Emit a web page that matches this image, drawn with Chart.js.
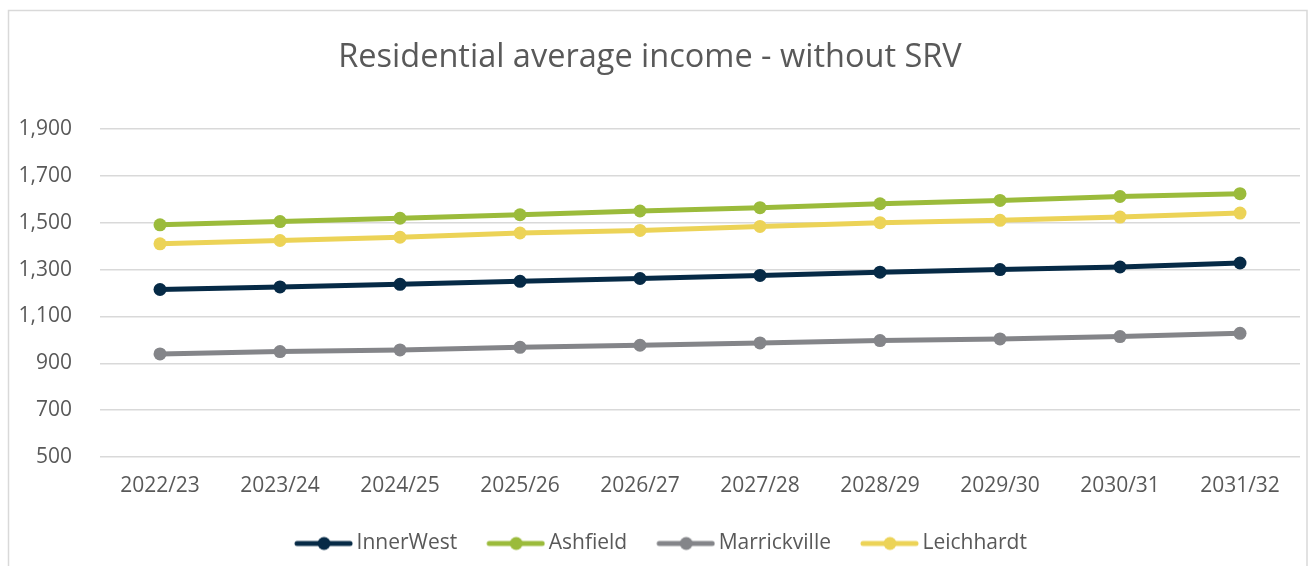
<!DOCTYPE html>
<html>
<head>
<meta charset="utf-8">
<title>Residential average income - without SRV</title>
<script src="https://cdn.jsdelivr.net/npm/chart.js@4.4.1/dist/chart.umd.min.js"></script>
<style>
    html, body { margin: 0; padding: 0; background: #ffffff; }
    #incomeChart { display: block; }
</style>
</head>
<body>
<canvas id="incomeChart" width="1308" height="566"></canvas>
<script>
// Chart data
const years = ['2022/23', '2023/24', '2024/25', '2025/26', '2026/27', '2027/28', '2028/29', '2029/30', '2030/31', '2031/32'];
const innerWest = [1215, 1226, 1237, 1250, 1262, 1275, 1289, 1300, 1311, 1328];
const ashfield = [1491, 1505, 1519, 1534, 1550, 1564, 1581, 1595, 1612, 1624];
const marrickville = [940, 950, 957, 968, 977, 987, 997, 1004, 1014, 1028];
const leichhardt = [1410, 1424, 1438, 1456, 1467, 1484, 1500, 1510, 1524, 1541];

const seriesNames = ['InnerWest', 'Ashfield', 'Marrickville', 'Leichhardt'];
const seriesValues = [innerWest, ashfield, marrickville, leichhardt];
const seriesColors = ['#062a46', '#9bbb3b', '#848589', '#ecd357'];

const textColor = '#595959';
const gridColor = '#d9d9d9';

Chart.defaults.font.family = "'Open Sans', sans-serif";
Chart.defaults.color = textColor;

// Legend marker: short thick line with a dot in the middle (Excel style)
function makeLegendIcon(color) {
    const icon = document.createElement('canvas');
    icon.width = 87;
    icon.height = 16;
    const g = icon.getContext('2d');
    g.strokeStyle = color;
    g.lineWidth = 5;
    g.lineCap = 'round';
    g.beginPath();
    g.moveTo(icon.width - 56, 8);
    g.lineTo(icon.width - 3, 8);
    g.stroke();
    g.fillStyle = color;
    g.beginPath();
    g.arc(icon.width - 29, 8, 6.5, 0, Math.PI * 2);
    g.fill();
    return icon;
}

// White background + thin frame round the chart
const framePlugin = {
    id: 'frame',
    beforeDraw(chart) {
        const c = chart.ctx;
        c.save();
        c.fillStyle = '#ffffff';
        c.fillRect(0, 0, chart.width, chart.height);
        c.strokeStyle = gridColor;
        c.lineWidth = 1.5;
        c.beginPath();
        c.moveTo(8.5, chart.height);
        c.lineTo(8.5, 10.5);
        c.lineTo(1307, 10.5);
        c.lineTo(1307, chart.height);
        c.stroke();
        c.restore();
    }
};

const datasets = seriesNames.map((name, i) => ({
    label: name,
    data: seriesValues[i],
    borderColor: seriesColors[i],
    backgroundColor: seriesColors[i],
    pointBackgroundColor: seriesColors[i],
    pointBorderWidth: 0,
    pointRadius: 6.5,
    pointStyle: 'circle',
    legendIcon: makeLegendIcon(seriesColors[i]),
    borderWidth: 5,
    tension: 0,
    fill: false
}));

const ctx = document.getElementById('incomeChart').getContext('2d');
const incomeChart = new Chart(ctx, {
    type: 'line',
    data: { labels: years, datasets: datasets },
    options: {
        responsive: false,
        animation: false,
        layout: { padding: { left: 0, right: 8, top: 0, bottom: 2 } },
        plugins: {
            title: {
                display: true,
                text: 'Residential average income - without SRV',
                color: textColor,
                font: { size: 32.5, weight: 'normal', lineHeight: 1.2 },
                padding: { top: 38.5, bottom: 51.5 }
            },
            legend: {
                position: 'bottom',
                labels: {
                    color: textColor,
                    font: { size: 21 },
                    padding: 8,
                    usePointStyle: true,
                    pointStyleWidth: 73,
                    generateLabels(chart) {
                        return chart.data.datasets.map((ds, i) => ({
                            text: ds.label,
                            fontColor: textColor,
                            pointStyle: ds.legendIcon,
                            lineWidth: 0,
                            datasetIndex: i
                        }));
                    }
                }
            },
            tooltip: { enabled: false }
        },
        scales: {
            x: {
                offset: true,
                grid: { display: false, drawTicks: false },
                border: { display: false },
                ticks: { color: textColor, font: { size: 21 }, padding: 16.5, maxRotation: 0 },
                afterFit(scale) { scale.height = 68; }
            },
            y: {
                min: 500,
                max: 1900,
                grid: { color: gridColor, lineWidth: 1.5, drawTicks: false },
                border: { display: false },
                ticks: {
                    stepSize: 200,
                    color: textColor,
                    font: { size: 21 },
                    padding: 28,
                    callback: value => value.toLocaleString('en-US')
                },
                afterFit(scale) { scale.width = 100; }
            }
        }
    },
    plugins: [framePlugin]
});
</script>
</body>
</html>
